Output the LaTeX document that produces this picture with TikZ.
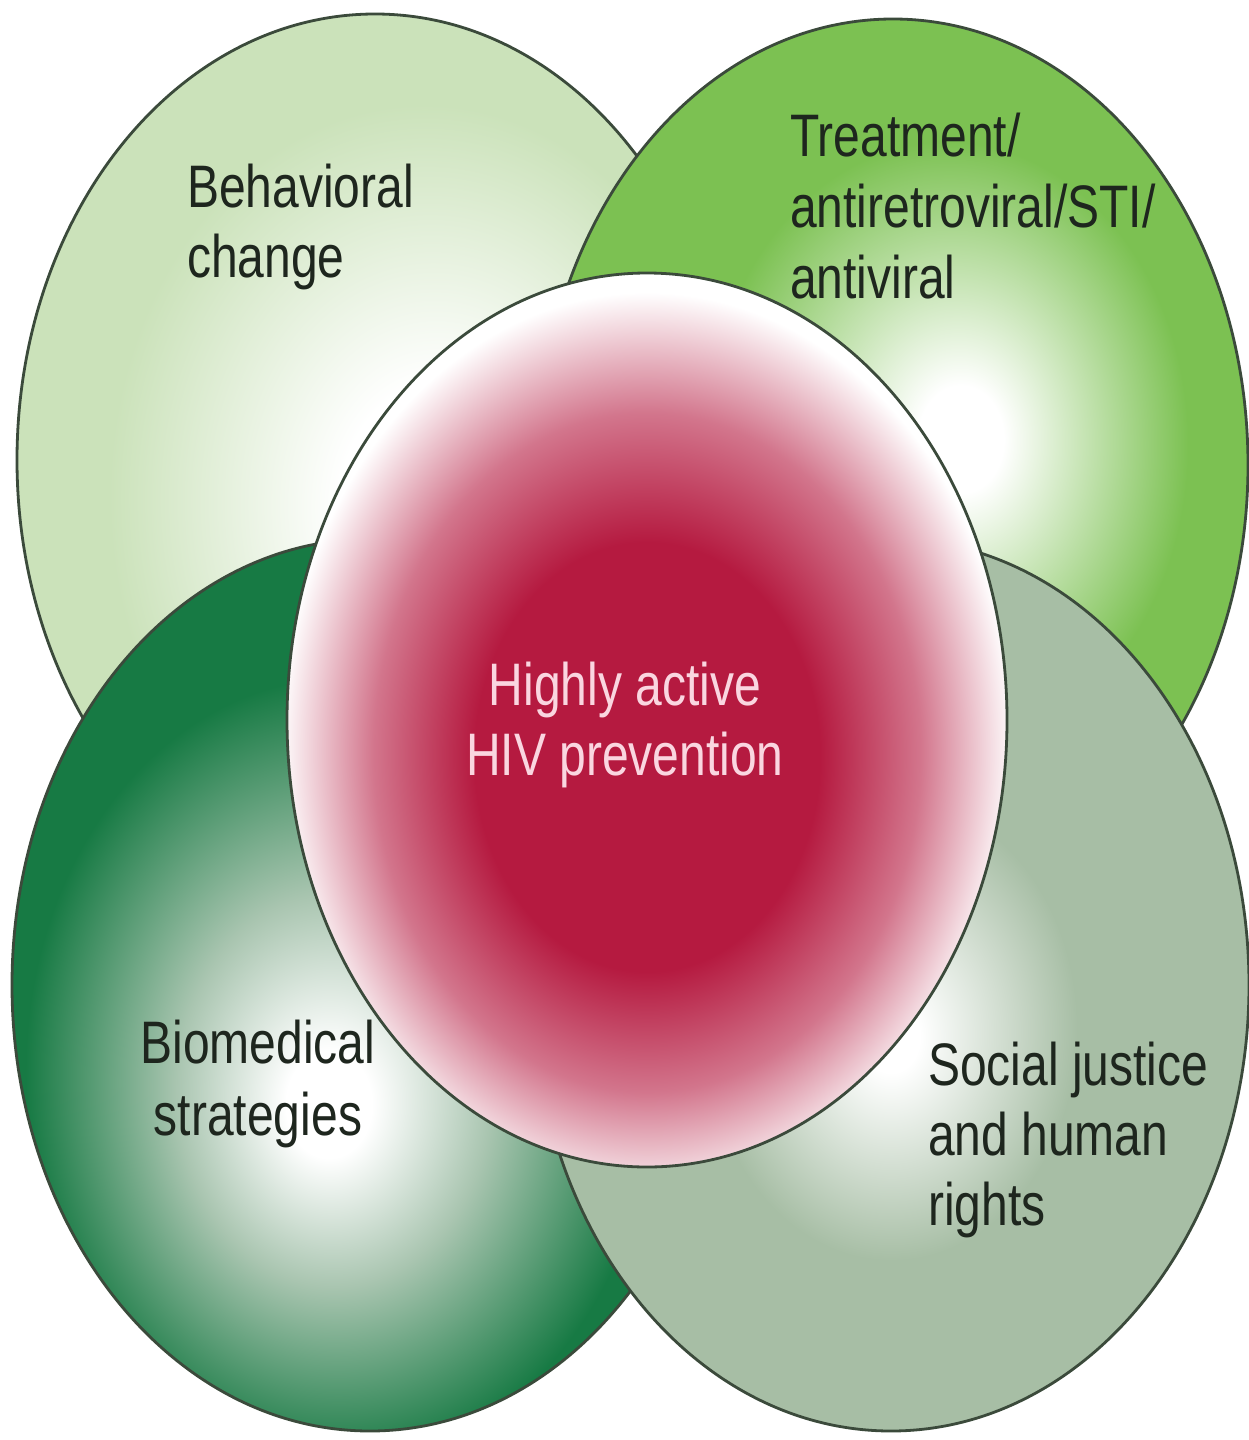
\documentclass[tikz,border=0pt]{standalone}
\usepackage{fontspec}
\setmainfont{Liberation Sans}[FakeStretch=0.8]
\usetikzlibrary{shapes.geometric}
\definecolor{tlgreen}{HTML}{CBE2BA}
\definecolor{trgreen}{HTML}{7CC152}
\definecolor{blgreen}{HTML}{177A44}
\definecolor{blmid}{HTML}{A9C5B0}
\definecolor{brgreen}{HTML}{A7BEA5}
\definecolor{hred}{HTML}{B51A40}
\definecolor{edgecol}{HTML}{3B4A3B}
\definecolor{labeltext}{HTML}{1E261E}
\definecolor{pinktext}{HTML}{FAD6E0}
\pgfdeclareradialshading{tlshade}{\pgfpoint{5bp}{-3bp}}{color(0bp)=(white); color(7bp)=(white); color(22bp)=(tlgreen); color(70bp)=(tlgreen)}
\pgfdeclareradialshading{trshade}{\pgfpoint{5bp}{1.5bp}}{color(0bp)=(white); color(3bp)=(white); color(17bp)=(trgreen); color(70bp)=(trgreen)}
\pgfdeclareradialshading{blshade}{\pgfpoint{-3bp}{-7bp}}{color(0bp)=(white); color(3bp)=(white); color(11bp)=(blmid); color(22bp)=(blgreen); color(70bp)=(blgreen)}
\pgfdeclareradialshading{brshade}{\pgfpoint{0bp}{-3bp}}{color(0bp)=(white); color(2bp)=(white); color(13bp)=(brgreen); color(70bp)=(brgreen)}
\pgfdeclareradialshading{cshade}{\pgfpoint{0bp}{-2.5bp}}{color(0bp)=(hred); color(12bp)=(hred); color(19bp)=(hred!60!white); color(25.5bp)=(white); color(70bp)=(white)}
\begin{document}
\begin{tikzpicture}[x=1pt,y=-1pt,
  blob/.style={ellipse, shade, draw=edgecol, line width=2.8pt, inner sep=0pt,
    minimum width=716pt, minimum height=892pt},
  lbl/.style={text=labeltext, font=\fontsize{60}{71}\selectfont, inner sep=0pt,
    align=left, anchor=base west}]
\fill[white] (0,0) rectangle (1249,1440);
\useasboundingbox (0,0) rectangle (1249,1440);
\node[blob, shading=tlshade] (tl) at (375,460) {};
\node[blob, shading=trshade, minimum width=710pt] (tr) at (893,465) {};
\node[blob, shading=blshade] (bl) at (370,985) {};
\node[blob, shading=brshade] (br) at (891,985) {};
\node[blob, shading=cshade, minimum width=720pt, minimum height=894pt] (hub) at (647,720) {};
% base anchor of a multi-line node is the baseline of its last line
\node[lbl, font=\fontsize{60}{70}\selectfont] (beh) at (187,277) {Behavioral\\change};
\node[lbl] (trt) at (790,298) {Treatment/\\antiretroviral/STI/\\antiviral};
\node[lbl, align=center, anchor=base, font=\fontsize{60}{72}\selectfont] (bio) at (258,1135) {Biomedical\\strategies};
\node[lbl, font=\fontsize{60}{70}\selectfont] (soc) at (928,1225) {Social justice\\and human\\rights};
\node[lbl, text=pinktext, align=center, anchor=base, font=\fontsize{60}{70}\selectfont] (hiv) at (625,775) {Highly active\\HIV prevention};
\end{tikzpicture}
\end{document}
